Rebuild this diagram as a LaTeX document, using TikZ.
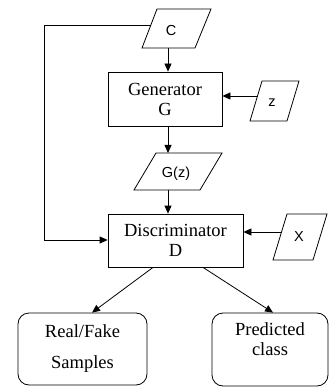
\documentclass[tikz,border=0pt]{standalone}
\usepackage{fontspec}
\setmainfont{Liberation Serif}
\newfontfamily\labelsans{Liberation Sans}
\usetikzlibrary{arrows.meta}
\begin{document}
\begin{tikzpicture}[x=1pt,y=-1pt,
  line width=0.8pt,
  arr/.style={-{Triangle[length=8pt,width=7pt]}},
  block/.style={draw,rectangle,inner sep=0pt,align=center,
    font=\fontsize{18.5}{20}\selectfont},
  outbox/.style={draw,rectangle,rounded corners=11pt,inner sep=0pt,align=center,
    font=\fontsize{18.5}{20}\selectfont},
  para/.style={draw,line join=miter},
  ptext/.style={inner sep=0pt,font=\labelsans\fontsize{14.5}{15}\selectfont}]
\useasboundingbox (0,0) rectangle (329,387);

% input parallelograms
\draw[para] (157,9) -- (211,9) -- (195,48) -- (142,48) -- cycle;
\node[ptext] (c) at (171,31) {C};
\coordinate (cleft) at (151,25);
\coordinate (cbot) at (168,48);

\draw[para] (262,81) -- (299,81) -- (287,121) -- (250,121) -- cycle;
\node[ptext] (z) at (272,103) {z};
\coordinate (zleft) at (257,96);

\draw[para] (156,153) -- (222,153) -- (200,190) -- (134,190) -- cycle;
\node[ptext] (gz) at (176,174) {G(z)};
\coordinate (gztop) at (168,153);
\coordinate (gzbot) at (168,190);

\draw[para] (287,214) -- (327,214) -- (313,260) -- (273,260) -- cycle;
\node[ptext] (x) at (299,237) {X};
\coordinate (xleft) at (281,232);

% networks
\node[block,minimum width=114pt,minimum height=54pt] (gen) at (165,99)
  {Generator\\G};
\node[block,minimum width=135pt,minimum height=53pt] (disc) at (175.5,240.5)
  {Discriminator\\D};

% outputs
\node[outbox,minimum width=129pt,minimum height=72pt] (rf) at (82.5,349)
  {Real/Fake\\[11pt]Samples};
\node[outbox,minimum width=116pt,minimum height=73pt] (pc) at (270,349.5)
  {Predicted\\class\\\mbox{}};

% connectors
\draw[arr] (cbot) -- (cbot |- gen.north);
\draw[arr] (zleft) -- (zleft -| gen.east);
\draw[arr] (gen.south -| gztop) -- (gztop);
\draw[arr] (gzbot) -- (gzbot |- disc.north);
\draw[arr] (xleft) -- (xleft -| disc.east);
\coordinate (loopa) at (44,25);
\coordinate (loopb) at (44,240);
\draw[arr] (cleft) -- (loopa) -- (loopb) -- (loopb -| disc.west);
\draw[arr] (disc.south -| 153,0) -- (rf.north -| 92,0);
\draw[arr] (disc.south -| 203,0) -- (pc.north -| 273,0);
\end{tikzpicture}
\end{document}
